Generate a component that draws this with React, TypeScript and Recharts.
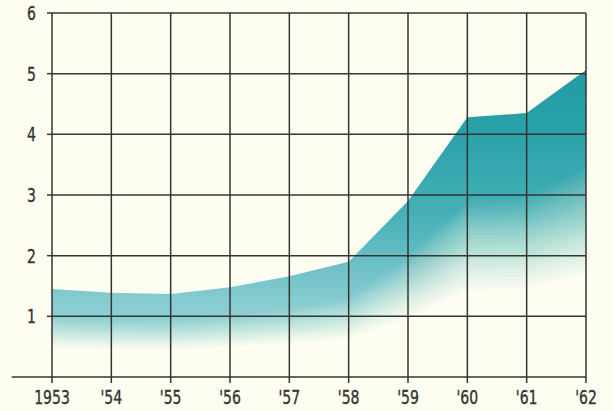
import React from "react";
import { ComposedChart, Area, Line, XAxis, YAxis, ReferenceLine, CartesianGrid } from "recharts";

const years = [1953, 1954, 1955, 1956, 1957, 1958, 1959, 1960, 1961, 1962];
const values = [1.45, 1.39, 1.37, 1.48, 1.66, 1.9, 2.9, 4.28, 4.35, 5.06];
const xTickLabels = ["1953", "'54", "'55", "'56", "'57", "'58", "'59", "'60", "'61", "'62"];
const yTicks = [1, 2, 3, 4, 5, 6];

const data = years.map((y, i) => ({ year: y, value: values[i] }));

// styling only: each cream veil covers the area from the baseline up to this share of its height
const fadeFractions = [
  0.68, 0.665, 0.65, 0.635, 0.62, 0.605, 0.59, 0.575, 0.56, 0.545, 0.53, 0.515,
  0.5, 0.485, 0.47, 0.455, 0.44, 0.425, 0.41, 0.395, 0.38, 0.365, 0.35, 0.335,
];

const FONT = "'DejaVu Sans Condensed', 'DejaVu Sans', sans-serif";
const INK = "#35352f";
const BG = "#fdfdf2";
const TXT = "#34342f";
const W = 613;
const H = 411;
const MARGIN = { top: 13, right: 27, left: 0, bottom: 0 };

const XTick = (props: any) => {
  const { x, y, payload } = props;
  const label = xTickLabels[years.indexOf(payload.value)];
  return (
    <g transform={`translate(${x},${y + 15}) scale(0.8,1)`}>
      <text x={0} y={0} textAnchor="middle" fill={TXT} stroke={TXT} strokeWidth={0.35} fontSize={19.5} fontFamily={FONT}>
        {label}
      </text>
    </g>
  );
};

const YTick = (props: any) => {
  const { x, y, payload } = props;
  return (
    <g transform={`translate(${x},${y + 7}) scale(0.8,1)`}>
      <text x={0} y={0} textAnchor="end" fill={TXT} stroke={TXT} strokeWidth={0.35} fontSize={19.5} fontFamily={FONT}>
        {payload.value}
      </text>
    </g>
  );
};

export default function App() {
  const n = fadeFractions.length;
  return (
    <div style={{ position: "absolute", left: 0, top: 0, width: W, height: H, background: BG }}>
      <div style={{ position: "absolute", left: 0, top: 0 }}>
        <ComposedChart width={W} height={H} data={data} margin={MARGIN}>
          <defs>
            <linearGradient id="teal" x1="0" y1="13" x2="0" y2="377" gradientUnits="userSpaceOnUse">
              <stop offset="0%" stopColor="#1d97a0" />
              <stop offset="30%" stopColor="#27a0a8" />
              <stop offset="55%" stopColor="#45afb6" />
              <stop offset="78%" stopColor="#84cbd0" />
              <stop offset="100%" stopColor="#a8dcdf" />
            </linearGradient>
          </defs>
          <XAxis
            dataKey="year"
            type="number"
            domain={[1953, 1962]}
            ticks={years}
            height={34}
            tick={false}
            axisLine={false}
            tickLine={false}
          />
          <YAxis type="number" domain={[0, 6]} ticks={yTicks} width={52} tick={false} axisLine={false} tickLine={false} />
          {fadeFractions.map((f, i) => (
            <YAxis key={"ax" + i} yAxisId={"fade" + i} type="number" domain={[0, 6 / f]} hide allowDataOverflow />
          ))}
          <Area type="linear" dataKey="value" stroke="none" fill="url(#teal)" fillOpacity={1} isAnimationActive={false} />
          {fadeFractions.map((f, i) => (
            <Area
              key={"fade" + i}
              yAxisId={"fade" + i}
              type="linear"
              dataKey="value"
              stroke="none"
              fill={BG}
              fillOpacity={1 / (n - i)}
              isAnimationActive={false}
              legendType="none"
            />
          ))}
        </ComposedChart>
      </div>
      <div style={{ position: "absolute", left: 0, top: 0 }}>
        <ComposedChart width={W} height={H} data={data} margin={MARGIN}>
          <CartesianGrid stroke={INK} strokeWidth={1.5} fill="none" horizontalValues={yTicks} verticalValues={years} />
          <XAxis
            dataKey="year"
            type="number"
            domain={[1953, 1962]}
            ticks={years}
            axisLine={false}
            tickSize={6}
            tickMargin={6}
            tickLine={{ stroke: INK, strokeWidth: 1.5 }}
            tick={<XTick />}
            height={34}
            interval={0}
          />
          <YAxis
            type="number"
            domain={[0, 6]}
            ticks={yTicks}
            axisLine={false}
            tickSize={5}
            tickMargin={11}
            tickLine={{ stroke: INK, strokeWidth: 1.5 }}
            tick={<YTick />}
            width={52}
          />
          <Line type="linear" dataKey="value" stroke="none" dot={false} isAnimationActive={false} legendType="none" />
          <ReferenceLine
            segment={[{ x: 1952.32, y: 0 }, { x: 1962, y: 0 }]}
            stroke={INK}
            strokeWidth={1.5}
            ifOverflow="visible"
          />
        </ComposedChart>
      </div>
    </div>
  );
}
